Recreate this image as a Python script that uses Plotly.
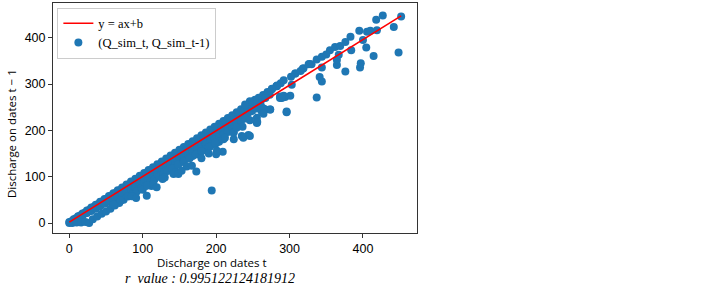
import plotly.graph_objects as go

# ---------------- data ----------------
# dense band, upper edge (recession days, Q_{t-1} slightly above Q_t)
upper_x = [0, 6, 12, 18, 24, 30, 36, 42, 48, 54, 60, 66, 72, 78, 84, 90, 96, 102, 108, 114,
           120, 126, 132, 138, 144, 150, 156, 162, 168, 174, 180, 186, 192, 198, 204, 210,
           216, 222, 228, 234, 240, 246, 252, 258, 264, 270, 276, 282, 288]
upper_y = [2, 8.2, 14.5, 20.7, 27, 33.2, 39.4, 45.7, 51.9, 58.2, 64.4, 70.6, 76.9, 83.1, 89.4,
           95.6, 101.8, 108.1, 114.3, 120.6, 126.8, 133, 139.3, 145.5, 151.8, 158, 164.2, 170.5,
           176.7, 183, 189.2, 195.4, 201.7, 207.9, 214.2, 220.4, 226.6, 232.9, 239.1, 245.4,
           251.6, 257.8, 264.1, 270.3, 276.6, 282.8, 289, 295.3, 301.5]

# dense band, just below the upper edge
near_x = [3, 9, 15, 21, 27, 33, 39, 45, 51, 57, 63, 69, 75, 81, 87, 93, 99, 105, 111, 117, 123,
          129, 135, 141, 147, 153, 159, 165, 171, 177, 183, 189, 195, 201, 207, 213, 219, 225,
          231, 237, 243, 249, 255, 261, 267, 273]
near_y = [4, 10.1, 16.2, 22.2, 28.3, 34.3, 40.4, 46.5, 52.5, 58.6, 64.6, 70.7, 76.8, 82.8, 88.9,
          94.9, 101, 107.1, 113.1, 119.2, 125.2, 131.3, 137.4, 143.4, 149.5, 155.5, 161.6, 167.7,
          173.7, 179.8, 185.8, 191.9, 198, 204, 210.1, 216.1, 222.2, 228.3, 234.3, 240.4, 246.4,
          252.5, 258.6, 264.6, 270.7, 276.7]

# dense band, middle
mid_x = [3, 9, 15, 21, 27, 33, 39, 45, 51, 57, 63, 69, 75, 81, 87, 93, 99, 105, 111, 117, 123,
         129, 135, 141, 147, 153, 159, 165, 171, 177, 183, 189, 195, 201, 207, 213, 219, 225,
         231, 237, 243, 249, 255, 261]
mid_y = [2.9, 8.7, 14.6, 20.4, 26.2, 32, 37.8, 43.7, 49.5, 55.3, 61.1, 66.9, 72.8, 78.6, 84.4,
         90.2, 96, 101.9, 107.7, 113.5, 119.3, 125.1, 131, 136.8, 142.6, 148.4, 154.2, 160.1,
         165.9, 171.7, 177.5, 183.3, 189.2, 195, 200.8, 206.6, 212.4, 218.3, 224.1, 229.9,
         235.7, 241.5, 247.4, 253.2]

# dense band, second middle row
mid2_x = [0, 6, 12, 18, 24, 30, 36, 42, 48, 54, 60, 66, 72, 78, 84, 90, 96, 102, 108, 114, 120,
          126, 132, 138, 144, 150, 156, 162, 168, 174, 180, 186, 192, 198, 204, 210, 216, 222,
          228, 234, 240]
mid2_y = [0, 5.6, 11.3, 16.9, 22.6, 28.2, 33.8, 39.5, 45.1, 50.8, 56.4, 62, 67.7, 73.3, 79,
          84.6, 90.2, 95.9, 101.5, 107.2, 112.8, 118.4, 124.1, 129.7, 135.4, 141, 146.6, 152.3,
          157.9, 163.6, 169.2, 174.8, 180.5, 186.1, 191.8, 197.4, 203, 208.7, 214.3, 220, 225.6]

# dense band, lower part (rising limbs)
low_x = [6, 12, 18, 24, 30, 36, 42, 48, 54, 60, 66, 72, 78, 84, 90, 96, 102, 108, 114, 120,
         126, 132, 138, 144, 150, 156, 162, 168, 174, 180, 186, 192, 198, 204, 210, 216, 222]
low_y = [5.5, 10.9, 16.4, 21.8, 27.3, 32.8, 38.2, 43.7, 49.1, 54.6, 60.1, 65.5, 71, 76.4, 81.9,
         87.4, 92.8, 98.3, 103.7, 109.2, 114.7, 120.1, 125.6, 131, 136.5, 142, 147.4, 152.9,
         158.3, 163.8, 169.3, 174.7, 180.2, 185.6, 191.1, 196.6, 202]

# dense band, lower rising-limb row
low2_x = [30, 36, 42, 48, 54, 60, 66, 72, 78, 84, 90, 96, 102, 108, 114, 120, 126, 132, 138,
          144, 150, 156, 162, 168, 174, 180, 186, 192, 198, 204, 210]
low2_y = [25.8, 31, 36.1, 41.3, 46.4, 51.6, 56.8, 61.9, 67.1, 72.2, 77.4, 82.6, 87.7, 92.9, 98,
          103.2, 108.4, 113.5, 118.7, 123.8, 129, 134.2, 139.3, 144.5, 149.6, 154.8, 160, 165.1,
          170.3, 175.4, 180.6]

# bottom edge of the band
bottom_x = [4, 10, 16, 22, 27, 32, 38, 44, 50, 56, 62, 68, 74, 80, 86, 92, 98, 104, 110, 116,
            122, 128, 134, 140, 148, 156, 164, 172, 180, 190, 200, 212, 224, 236, 246,
            60, 70, 85, 100, 112, 130, 145, 160, 180, 190]
bottom_y = [0, 1, 1, 2, 0, 8, 14, 20, 25, 31, 38, 43, 50, 57, 62, 68, 75, 80, 88, 94, 100, 106,
            112, 117, 126, 132, 140, 148, 155, 164, 172, 184, 196, 208, 222,
            40, 48, 58, 72, 80, 98, 110, 122, 140, 150]

# scattered points
out_x = [91, 105.5, 106, 114.5, 119, 127, 142, 148.6, 153, 167, 173, 194, 200, 209, 201, 198.6,
         224, 223.6, 228, 235, 244, 237, 246, 255.5, 255.5, 262, 267, 256, 273.6, 282.7, 292,
         307.7, 319, 327, 337, 344, 355, 362, 369, 376, 383, 395, 405.5, 410, 419, 418, 427,
         452, 442, 448.5, 414.5, 404.5, 400, 396, 397, 384, 376, 364.5, 364.5, 367, 344, 341,
         344, 337, 303, 301, 294, 287, 296, 273.6, 296, 287, 292, 264.5, 264.5, 253, 246,
         239.5, 283, 276, 271, 267, 289.5, 330, 318, 308, 326, 302, 315, 350]
out_y = [54, 59, 81, 84, 77, 95, 106, 106, 113, 123.5, 111, 70, 148.6, 154, 156, 173, 181, 195,
         205.6, 188, 190, 184, 188, 216, 227, 241, 245, 218, 245, 295, 308, 323, 334, 343.5, 353,
         359, 373, 380, 382, 391, 402, 415, 413, 415, 416, 439, 448, 446, 423, 368, 360.6, 379,
         395, 336, 345, 373, 327, 341, 352, 363, 335.5, 315, 305.6, 271, 298.5, 275, 272, 270,
         239, 245, 241, 273, 275, 247, 236, 266, 263, 256, 297, 290, 280, 270, 270, 343, 333,
         323, 343, 316, 328, 364]

# fitted line y = a x + b (end points)
fit_x = [0, 452]
fit_y = [2.0, 447.2]

r_value_text = "0.995122124181912"
x_ticks = [0, 100, 200, 300, 400]
y_ticks = [0, 100, 200, 300, 400]

# ---------------- figure ----------------
pts_x = upper_x + near_x + mid_x + mid2_x + low_x + low2_x + bottom_x + out_x
pts_y = upper_y + near_y + mid_y + mid2_y + low_y + low2_y + bottom_y + out_y

fig = go.Figure()
fig.add_trace(go.Scatter(
    x=pts_x, y=pts_y, mode="markers", name="(Q_sim_t, Q_sim_t-1)",
    marker=dict(color="#1f77b4", size=8, line=dict(width=0)),
    legendrank=2,
))
fig.add_trace(go.Scatter(
    x=fit_x, y=fit_y, mode="lines", name="y = ax+b",
    line=dict(color="#ff0000", width=1.6),
    legendrank=1,
))

axis_common = dict(
    showgrid=False, zeroline=False, showline=True, linecolor="#333333", linewidth=1,
    mirror=True, ticks="outside", ticklen=4, tickwidth=1, tickcolor="#333333",
    tickfont=dict(family="Liberation Sans, Arial, sans-serif", size=12.5, color="#000000"),
)

fig.update_layout(
    width=723, height=286,
    margin=dict(l=53, r=306, t=3, b=53),
    paper_bgcolor="white", plot_bgcolor="white",
    showlegend=True,
    legend=dict(
        x=0.012, y=0.98, xanchor="left", yanchor="top",
        bgcolor="rgba(255,255,255,0.9)", bordercolor="#cccccc", borderwidth=1,
        font=dict(family="Liberation Serif, Times New Roman, serif", size=12.5, color="#000000"),
        itemwidth=30, tracegroupgap=0,
    ),
    xaxis=dict(range=[-22.2, 473.6], tickvals=x_ticks, **axis_common),
    yaxis=dict(range=[-21.6, 475], tickvals=y_ticks, **axis_common),
    annotations=[
        dict(text="Discharge on dates t", xref="paper", yref="paper",
             x=(212 - 53) / 364, y=1 - (262 - 3) / 230, xanchor="center", yanchor="middle",
             showarrow=False,
             font=dict(family="Open Sans, sans-serif", size=11.5, color="#000000")),
        dict(text="Discharge on dates t \u2212 1", xref="paper", yref="paper",
             x=(11 - 53) / 364, y=1 - (134 - 3) / 230, xanchor="center", yanchor="middle",
             textangle=-90, showarrow=False,
             font=dict(family="Open Sans, sans-serif", size=11.5, color="#000000")),
        dict(text="<i>r\u00a0 value : " + r_value_text + "</i>", xref="paper", yref="paper",
             x=(210 - 53) / 364, y=1 - (278 - 3) / 230, xanchor="center", yanchor="middle",
             showarrow=False,
             font=dict(family="Liberation Serif, Times New Roman, serif", size=14, color="#000000")),
    ],
)

fig.write_html("out.html", config={"displayModeBar": False},
               post_script="document.body.style.margin='0px';")
